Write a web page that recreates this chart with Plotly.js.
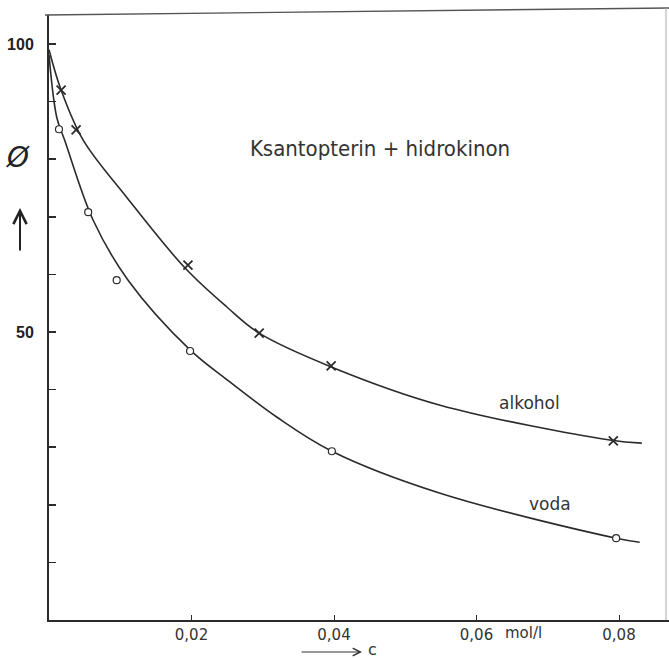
<!DOCTYPE html>
<html>
<head>
<meta charset="utf-8">
<script src="https://cdn.plot.ly/plotly-3.0.1.min.js"></script>
<style>html,body{margin:0;padding:0;background:#fff;}#chart{width:669px;height:658px;}</style>
</head>
<body>
<div id="chart"></div>
<script>
// measured markers
const alcoholX = [0.0017, 0.0038, 0.0195, 0.0295, 0.0396, 0.0792];
const alcoholY = [92.0, 85.1, 61.6, 49.8, 44.1, 31.1];
const vodaX = [0.0014, 0.0055, 0.0095, 0.0198, 0.0397, 0.0796];
const vodaY = [85.2, 70.8, 59.0, 46.7, 29.3, 14.2];
// hand-drawn curves
const alcoholCurveX = [0, 0.0017, 0.0048, 0.0109, 0.0191, 0.025, 0.0295, 0.0397, 0.0549, 0.0787, 0.0832];
const alcoholCurveY = [99.0, 92.0, 83.3, 73.4, 61.1, 54.3, 49.8, 43.9, 37.3, 31.25, 30.7];
const vodaCurveX = [0, 0.0011, 0.0022, 0.0062, 0.0111, 0.0198, 0.025, 0.032, 0.0397, 0.0549, 0.0796, 0.0829];
const vodaCurveY = [98.1, 87.2, 83.3, 69.4, 59.0, 46.9, 41.7, 35.2, 29.3, 22.0, 14.2, 13.5];
// ticks
const xTickVals = [0.02, 0.04, 0.06, 0.08];
const xTickText = ['0,02', '0,04', '0,06', '0,08'];
const yTickVals = [10, 20, 30, 40, 50, 60, 70, 80, 90, 100];
const yTickText = ['', '', '', '', '50', '', '', '', '', '100'];

const W = 669, H = 658, L = 49, R = 0, T = 15, B = 38;
const pw = W - L - R, ph = H - T - B;
const px2x = p => (p - L) / pw;
const py2y = p => (H - B - p) / ph;
const ink = '#2b2b2b';

const traces = [
  {x: alcoholCurveX, y: alcoholCurveY, mode: 'lines', line: {color: ink, width: 1.6, shape: 'spline', smoothing: 1.0}, hoverinfo: 'skip', showlegend: false},
  {x: vodaCurveX, y: vodaCurveY, mode: 'lines', line: {color: ink, width: 1.6, shape: 'spline', smoothing: 1.0}, hoverinfo: 'skip', showlegend: false},
  {x: alcoholX, y: alcoholY, mode: 'markers', name: 'alkohol', marker: {symbol: 'x-thin', size: 9, color: ink, line: {color: ink, width: 1.8}}, showlegend: false},
  {x: vodaX, y: vodaY, mode: 'markers', name: 'voda', marker: {symbol: 'circle', size: 7, color: '#fff', line: {color: ink, width: 1.2}}, showlegend: false}
];

const layout = {
  width: W, height: H,
  margin: {l: L, r: R, t: T, b: B, pad: 0},
  paper_bgcolor: '#fff', plot_bgcolor: '#fff',
  showlegend: false,
  title: {text: 'Ksantopterin + hidrokinon', x: 380 / W, xanchor: 'center', y: 1 - 148 / H, yanchor: 'middle',
          font: {family: 'DejaVu Sans Condensed, DejaVu Sans', size: 22, color: '#333'}},
  xaxis: {range: [0, pw / 7125], showgrid: false, zeroline: false, showline: true, linecolor: ink, linewidth: 1.5,
          ticks: 'inside', ticklen: 5, tickwidth: 1, tickcolor: ink, tickvals: xTickVals, ticktext: xTickText,
          tickfont: {family: 'DejaVu Sans', size: 15, color: '#333'}, fixedrange: true},
  yaxis: {range: [0, ph / 5.76], showgrid: false, zeroline: false, showline: true, linecolor: ink, linewidth: 2,
          ticks: 'inside', ticklen: 7, tickwidth: 1.5, tickcolor: ink, tickvals: yTickVals, ticktext: yTickText,
          ticklabelstandoff: 10,
          tickfont: {family: 'Liberation Sans', size: 16, color: '#222', weight: 'bold'}, fixedrange: true},
  shapes: [
    {type: 'line', xref: 'paper', yref: 'paper', x0: px2x(45), y0: py2y(15), x1: px2x(669), y1: py2y(8), line: {color: '#555', width: 1.4}},
    {type: 'line', xref: 'paper', yref: 'paper', x0: px2x(666), y0: py2y(8), x1: px2x(666), y1: py2y(620), line: {color: '#aaa', width: 1}}
  ],
  annotations: [
    {xref: 'paper', yref: 'paper', x: px2x(18), y: py2y(157), text: 'Ø', showarrow: false, xanchor: 'center', yanchor: 'middle',
     font: {family: 'DejaVu Sans', size: 28, color: '#222', style: 'italic'}},
    {xref: 'paper', yref: 'paper', x: px2x(20), y: py2y(208), ax: 0, ay: 44, text: '', showarrow: true, arrowhead: 5, arrowsize: 1.3, arrowwidth: 2, arrowcolor: '#222'},
    {xref: 'paper', yref: 'paper', x: px2x(362), y: py2y(652), ax: -62, ay: 0, text: '', showarrow: true, arrowhead: 5, arrowsize: 1.5, arrowwidth: 1, arrowcolor: '#333'},
    {xref: 'paper', yref: 'paper', x: px2x(366), y: py2y(649), text: 'c', showarrow: false, xanchor: 'left', yanchor: 'middle',
     font: {family: 'DejaVu Sans', size: 16, color: '#333'}},
    {xref: 'paper', yref: 'paper', x: px2x(503), y: py2y(633), text: 'mol/l', showarrow: false, xanchor: 'left', yanchor: 'middle',
     font: {family: 'DejaVu Sans', size: 15, color: '#333'}},
    {xref: 'paper', yref: 'paper', x: px2x(529), y: py2y(403), text: 'alkohol', showarrow: false, xanchor: 'center', yanchor: 'middle',
     font: {family: 'DejaVu Sans', size: 17, color: '#333'}},
    {xref: 'paper', yref: 'paper', x: px2x(550), y: py2y(504), text: 'voda', showarrow: false, xanchor: 'center', yanchor: 'middle',
     font: {family: 'DejaVu Sans', size: 17, color: '#333'}}
  ]
};

Plotly.newPlot('chart', traces, layout, {displayModeBar: false, staticPlot: true});
</script>
</body>
</html>
